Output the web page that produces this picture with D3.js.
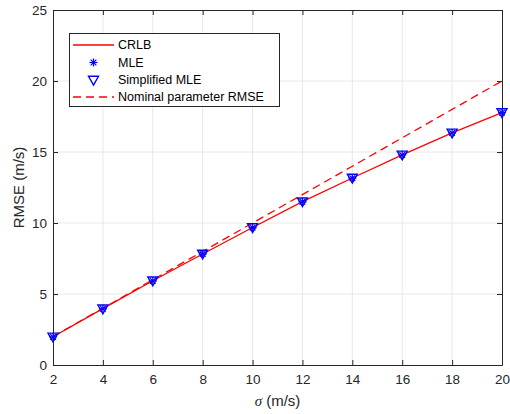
<!DOCTYPE html>
<html>
<head>
<meta charset="utf-8">
<script src="https://cdn.jsdelivr.net/npm/d3@7"></script>
<style>
  html, body { margin: 0; padding: 0; background: #fff; }
  svg { display: block; font-family: "Liberation Sans", Arial, sans-serif; }
</style>
</head>
<body>
<svg id="chart" width="510" height="414"></svg>
<script>
// Noise standard deviation sigma (m/s)
const sigma = [2, 4, 6, 8, 10, 12, 14, 16, 18, 20];
// Cramér-Rao lower bound
const crlb = [1.99, 3.97, 5.93, 7.82, 9.68, 11.5, 13.17, 14.8, 16.35, 17.78];
// Maximum-likelihood estimator RMSE
const mle = [1.98, 3.96, 5.92, 7.81, 9.67, 11.49, 13.16, 14.79, 16.34, 17.77];
// Simplified MLE RMSE
const simplifiedMle = [1.98, 3.96, 5.93, 7.82, 9.68, 11.5, 13.17, 14.8, 16.35, 17.78];
// RMSE with nominal parameters
const nominal = [2, 4, 6, 8, 10, 12, 14, 16, 18, 20];

const xTicks = [2, 4, 6, 8, 10, 12, 14, 16, 18, 20];
const yTicks = [0, 5, 10, 15, 20, 25];

const svg = d3.select("#chart");
const m = { left: 53, right: 8, top: 10, bottom: 49 };
const W = 510, H = 414;
const x = d3.scaleLinear().domain([2, 20]).range([m.left, W - m.right]);
const y = d3.scaleLinear().domain([0, 25]).range([H - m.bottom, m.top]);

const axisColor = "#262626";
const gridColor = "#e8e8e8";

// grid
const g = svg.append("g");
g.selectAll("line.gx").data(xTicks.slice(1, -1)).join("line")
  .attr("x1", d => x(d)).attr("x2", d => x(d))
  .attr("y1", y(0)).attr("y2", y(25))
  .attr("stroke", gridColor).attr("stroke-width", 1);
g.selectAll("line.gy").data(yTicks.slice(1, -1)).join("line")
  .attr("y1", d => y(d)).attr("y2", d => y(d))
  .attr("x1", x(2)).attr("x2", x(20))
  .attr("stroke", gridColor).attr("stroke-width", 1);

// axes (ticks inward)
const tickLen = 5;
const fontSize = "13.5px";
const xAxis = svg.append("g").attr("transform", `translate(0,${y(0)})`)
  .call(d3.axisBottom(x).tickValues(xTicks).tickSizeInner(-tickLen).tickSizeOuter(0).tickPadding(9));
const yAxis = svg.append("g").attr("transform", `translate(${x(2)},0)`)
  .call(d3.axisLeft(y).tickValues(yTicks).tickSizeInner(-tickLen).tickSizeOuter(0).tickPadding(6));
const xTop = svg.append("g").attr("transform", `translate(0,${y(25)})`)
  .call(d3.axisTop(x).tickValues(xTicks).tickSizeInner(-tickLen).tickSizeOuter(0).tickFormat(""));
const yRight = svg.append("g").attr("transform", `translate(${x(20)},0)`)
  .call(d3.axisRight(y).tickValues(yTicks).tickSizeInner(-tickLen).tickSizeOuter(0).tickFormat(""));
[xAxis, yAxis, xTop, yRight].forEach(a => {
  a.select(".domain").attr("stroke", axisColor).attr("stroke-width", 1);
  a.selectAll(".tick line").attr("stroke", axisColor);
  a.selectAll("text").attr("fill", axisColor).style("font-size", fontSize)
    .style("font-family", '"Liberation Sans", Arial, sans-serif');
});

// axis labels
svg.append("text")
  .attr("x", (x(2) + x(20)) / 2).attr("y", 406)
  .attr("text-anchor", "middle").attr("fill", axisColor).style("font-size", "15px")
  .html('<tspan font-style="italic" font-family="Liberation Serif, serif">σ</tspan> (m/s)');
svg.append("text")
  .attr("transform", `translate(24,${(y(0) + y(25)) / 2}) rotate(-90)`)
  .attr("text-anchor", "middle").attr("fill", axisColor).style("font-size", "15px")
  .text("RMSE (m/s)");

const plot = svg.append("g");
const line = (vals) => d3.line().x((d, i) => x(sigma[i])).y(d => y(d))(vals);

// nominal parameter RMSE (dashed)
plot.append("path").attr("d", line(nominal))
  .attr("fill", "none").attr("stroke", "#ff0000").attr("stroke-width", 1.3)
  .attr("stroke-dasharray", "8,5");
// CRLB
plot.append("path").attr("d", line(crlb))
  .attr("fill", "none").attr("stroke", "#ff0000").attr("stroke-width", 1.3);

// marker helpers
const blue = "#0000ff";
function asterisk(sel, cx, cy, r) {
  const gg = sel.append("g").attr("stroke", blue).attr("stroke-width", 1.2);
  [0, 45, 90, 135].forEach(a => {
    const t = a * Math.PI / 180;
    gg.append("line")
      .attr("x1", cx - r * Math.cos(t)).attr("y1", cy - r * Math.sin(t))
      .attr("x2", cx + r * Math.cos(t)).attr("y2", cy + r * Math.sin(t));
  });
}
function triDown(sel, cx, cy, r) {
  sel.append("path")
    .attr("d", `M${cx - r},${cy - r * 0.75} L${cx + r},${cy - r * 0.75} L${cx},${cy + r} Z`)
    .attr("fill", "none").attr("stroke", blue).attr("stroke-width", 1.4);
}

mle.forEach((v, i) => asterisk(plot, x(sigma[i]), y(v), 4));
simplifiedMle.forEach((v, i) => triDown(plot, x(sigma[i]), y(v), 5));

// legend
const lg = svg.append("g");
lg.append("rect").attr("x", 69.5).attr("y", 33.5).attr("width", 210).attr("height", 73)
  .attr("fill", "#fff").attr("stroke", axisColor).attr("stroke-width", 1);
const entries = ["CRLB", "MLE", "Simplified MLE", "Nominal parameter RMSE"];
const rowY = [45, 62.5, 80, 97];
entries.forEach((t, i) => {
  lg.append("text").attr("x", 118).attr("y", rowY[i]).attr("dy", "0.35em")
    .attr("fill", "#000").style("font-size", "12.5px").text(t);
});
lg.append("line").attr("x1", 73).attr("x2", 114).attr("y1", rowY[0]).attr("y2", rowY[0])
  .attr("stroke", "#ff0000").attr("stroke-width", 1.3);
asterisk(lg, 93.5, rowY[1], 4);
triDown(lg, 93.5, rowY[2], 5);
lg.append("line").attr("x1", 73).attr("x2", 114).attr("y1", rowY[3]).attr("y2", rowY[3])
  .attr("stroke", "#ff0000").attr("stroke-width", 1.3).attr("stroke-dasharray", "8,5");
</script>
</body>
</html>
